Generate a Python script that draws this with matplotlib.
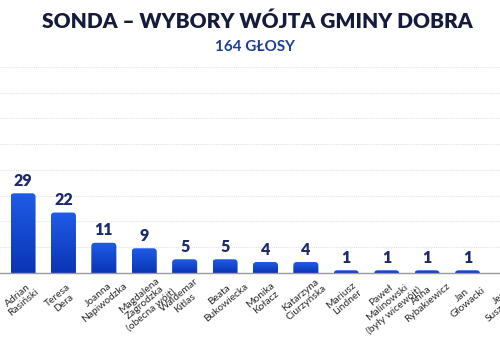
"""
sonda - wybory wojta gminy Dobra, wykres slupkowy
"""

import numpy as np
import matplotlib
matplotlib.use("Agg")
import matplotlib.pyplot as plt
from matplotlib.patches import FancyBboxPatch
from matplotlib.colors import LinearSegmentedColormap
from matplotlib.transforms import offset_copy

candidates = [
    "Adrian\nRasiński", "Teresa\nDera", "Joanna\nNapiwodzka",
    "Magdalena\nZagrodzka\n(obecna wójt)", "Waldemar\nKitlas", "Beata\nBukowiecka",
    "Monika\nKołacz", "Katarzyna\nCiurzyńska", "Mariusz\nLindner",
    "Paweł\nMalinowski\n(były wicewójt)", "Anna\nRybakiewicz", "Jan\nGłowacki",
    "Jerzy\nSuszczewski",
]
votes = [29, 22, 11, 9, 5, 5, 4, 4, 1, 1, 1, 1, 0]
total_votes = 164

title = "SONDA – WYBORY WÓJTA GMINY DOBRA"
subtitle = f"{total_votes} GŁOSY"

navy = "#141b3c"
label_navy = "#1b2a6b"
grad = LinearSegmentedColormap.from_list("bars", ["#0a34b4", "#1f5ce8"])

plt.rcParams['font.family'] = ['Lato', 'DejaVu Sans']

fig = plt.figure(figsize=(5, 3.5), dpi=100)
fig.patch.set_facecolor("white")

# axes goes a bit past the right edge, the last candidate is cut off like in the original
ax = fig.add_axes([0.0, 0.22, 1.04, 0.589])
x = np.arange(len(votes))
ax.set_xlim(-0.57, 12.3)
ax.set_ylim(0, 75)

bars = ax.bar(x, votes, width=0.62, color="none", zorder=2)

# aspect of one x unit vs one y unit in pixels, for rounded corners
pos = ax.get_position()
px_x = pos.width * 500 / (ax.get_xlim()[1] - ax.get_xlim()[0])
px_y = pos.height * 350 / (ax.get_ylim()[1] - ax.get_ylim()[0])
aspect = px_x / px_y
r = 0.09

gradient = np.linspace(0, 1, 256).reshape(-1, 1)
for b, v in zip(bars, votes):
    if v == 0:
        continue
    x0 = b.get_x()
    w = b.get_width()
    box = FancyBboxPatch((x0 + r, -3), w - 2 * r, v + 3 - r * aspect,
                         boxstyle=f"round,pad={r},rounding_size={r}",
                         mutation_aspect=aspect, facecolor="none",
                         edgecolor="none", zorder=2)
    ax.add_patch(box)
    im = ax.imshow(gradient, cmap=grad, aspect="auto", origin="lower",
                   extent=(x0, x0 + w, 0, v), zorder=2)
    im.set_clip_path(box)
    ax.text(b.get_x() + w / 2, v + 1.6, str(v), ha="center", va="bottom",
            fontsize=11.5, fontweight="heavy", color=label_navy)

ax.set_xlim(-0.57, 12.3)
ax.set_ylim(0, 75)

ax.set_yticks(np.linspace(0, 75, 9))
ax.yaxis.grid(True, color="#e2e2e2", linestyle=(0, (1, 1)), linewidth=0.8, zorder=0)
ax.tick_params(axis="y", left=False, labelleft=False)
ax.set_axisbelow(True)

# names under the bars, rotated, first line sits a bit left of the bar centre
ax.set_xticks([])
lbl_trans = offset_copy(ax.get_xaxis_transform(), fig=fig, x=-6, y=-13.5, units="points")
for xi, name in zip(x, candidates):
    ax.text(xi, 0, name, transform=lbl_trans, rotation=40, rotation_mode="anchor",
            ha="center", va="top", multialignment="center", fontsize=7.4,
            color="#2a2a2a", linespacing=1.1, clip_on=False)

for side in ["top", "left", "right"]:
    ax.spines[side].set_visible(False)
ax.spines["bottom"].set_color("#9a9a9a")
ax.spines["bottom"].set_linewidth(1.0)

fig.text(0.515, 0.94, title, ha="center", va="center",
         fontsize=15, fontweight="heavy", color=navy)
fig.text(0.51, 0.866, subtitle, ha="center", va="center",
         fontsize=11, fontweight="bold", color="#1c3f94")

fig.savefig("out.png", dpi=100, facecolor="white")
